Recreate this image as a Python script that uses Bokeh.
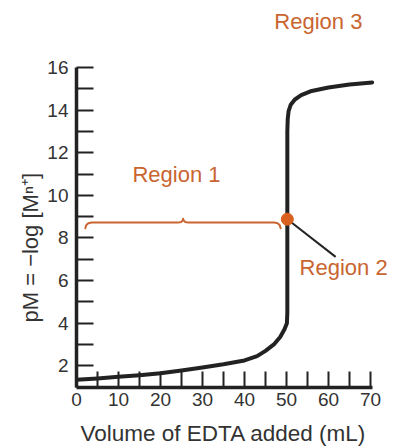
from bokeh.plotting import figure
from bokeh.models import Range1d, FixedTicker, ColumnDataSource, Title
from bokeh.core.properties import value
from bokeh.embed import file_html
from bokeh.resources import INLINE

# --- data ---
volume_ml = [0, 5, 10, 15, 20, 25, 30, 35, 40, 43, 45, 47, 48.5, 49.5, 50.1, 50.2,
             50.2, 50.3, 50.5, 51, 52, 53.5, 56, 60, 65, 70.4]
pM = [1.34, 1.4, 1.48, 1.56, 1.65, 1.78, 1.92, 2.07, 2.25, 2.45, 2.7, 3.0, 3.35, 3.7, 4.0, 4.5,
      13.0, 13.6, 13.95, 14.25, 14.5, 14.7, 14.9, 15.06, 15.2, 15.3]

x_ticks = [0, 10, 20, 30, 40, 50, 60, 70]
x_minor = [5, 15, 25, 35, 45, 55, 65]
y_ticks = [2, 4, 6, 8, 10, 12, 14, 16]
y_minor = [3, 5, 7, 9, 11, 13, 15]

x_title = "Volume of EDTA added (mL)"
y_title = "pM = \u2212log [M\u207f\u207a]"

# equivalence point marker
eq_x = [50.2]
eq_y = [8.88]

# leader from marker to "Region 2"
leader_x = [50.2, 61.7]
leader_y = [8.88, 7.11]

# Region 1 brace
brace_x = [2.1, 2.3, 2.8, 3.6, 24.2, 24.9, 25.3, 25.4, 25.5, 25.9, 26.6, 47.1, 47.9, 48.4, 48.6]
brace_y = [8.45, 8.6, 8.69, 8.72, 8.72, 8.75, 8.82, 8.9, 8.82, 8.75, 8.72, 8.72, 8.69, 8.6, 8.45]

region_labels = ["Region 1", "Region 2", "Region 3"]
region_x = [23.8, 63.6, 57.6]
region_y = [11.0, 6.61, 18.17]

ORANGE = "#C96530"
DOT = "#D9601E"
INK = "#222222"
FONT = "Liberation Sans"

p = figure(width=404, height=446, output_backend="svg", toolbar_location=None,
           x_range=Range1d(0, 78.1), y_range=Range1d(0.98, 18.77),
           min_border_left=76, min_border_right=0, min_border_top=8, min_border_bottom=59)
p.outline_line_color = None
p.xgrid.visible = False
p.ygrid.visible = False
p.background_fill_color = "white"

for ax in (p.xaxis[0], p.yaxis[0]):
    ax.axis_line_width = 3.5
    ax.axis_line_color = INK
    ax.major_tick_line_width = 2
    ax.minor_tick_line_width = 2
    ax.major_tick_line_color = INK
    ax.minor_tick_line_color = INK
    ax.major_tick_out = 0
    ax.minor_tick_out = 0
    ax.major_label_text_font = FONT
    ax.major_label_text_font_size = "19px"
    ax.major_label_text_color = "#333333"

p.xaxis[0].ticker = FixedTicker(ticks=x_ticks, minor_ticks=x_minor)
p.xaxis[0].bounds = (0, 70.4)
p.xaxis[0].major_tick_in = 16
p.xaxis[0].minor_tick_in = 16
p.xaxis[0].major_label_standoff = 5
# tiny blank axis label only used as a spacer above the x title
p.xaxis[0].axis_label = " "
p.xaxis[0].axis_label_text_font_size = "1px"
p.xaxis[0].axis_label_standoff = 6

p.yaxis[0].ticker = FixedTicker(ticks=y_ticks, minor_ticks=y_minor)
p.yaxis[0].bounds = (0.98, 16)
p.yaxis[0].major_tick_in = 17
p.yaxis[0].minor_tick_in = 17
p.yaxis[0].major_label_standoff = 8

# axis titles placed as side titles so they can be offset like the reference
p.add_layout(Title(text=y_title, align="left", offset=65, text_font=FONT,
                   text_font_size="22px", text_font_style="normal",
                   text_color="#333333", standoff=4), "left")
p.add_layout(Title(text=x_title, align="left", offset=4, text_font=FONT,
                   text_font_size="22.5px", text_font_style="normal",
                   text_color="#333333", standoff=0), "below")

# titration curve
p.line(volume_ml, pM, line_color=INK, line_width=4, line_join="round", line_cap="round")

# brace for region 1
p.line(brace_x, brace_y, line_color=ORANGE, line_width=2, line_join="round", line_cap="round")

# leader line and equivalence point
p.line(leader_x, leader_y, line_color=INK, line_width=2)
p.scatter(eq_x, eq_y, size=12, fill_color=DOT, line_color=DOT)

# region labels
src = ColumnDataSource(dict(x=region_x, y=region_y, t=region_labels))
p.text(x="x", y="y", text="t", source=src, text_font=value(FONT), text_font_size="22px",
       text_align="center", text_baseline="middle", text_color=ORANGE)

open("out.html", "w").write(file_html(p, INLINE))
